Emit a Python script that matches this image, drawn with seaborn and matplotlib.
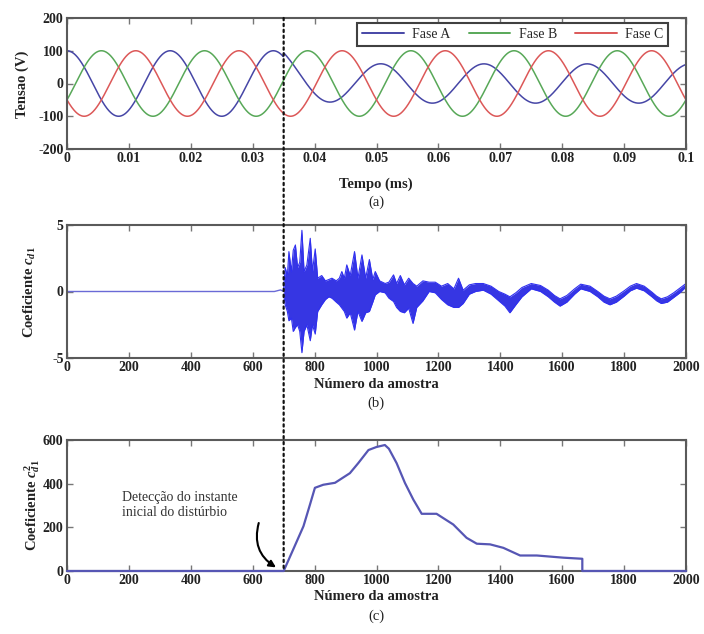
import numpy as np
import pandas as pd
import matplotlib
matplotlib.use("Agg")
import matplotlib.pyplot as plt
import seaborn as sns
from matplotlib.patches import ConnectionPatch

# ---------------- dados: painel (a) ----------------
fases = ["Fase A", "Fase B", "Fase C"]
cores_fases = ["#4646a6", "#58a858", "#dc5858"]
amp_antes = [100, 100, 100]
amp_depois = [60, 100, 100]
angulo_antes_graus = [0, -120, 120]
angulo_depois_graus = [-15, -120, 120]
transiente_inicial = [38, 0, 0]
tau_transiente = 0.003
freq_hz = 60
t_disturbio = 0.035
t_final = 0.1
n_pontos = 2001

ticks_tempo = [0, 0.01, 0.02, 0.03, 0.04, 0.05, 0.06, 0.07, 0.08, 0.09, 0.1]
rotulos_tempo = ["0", "0.01", "0.02", "0.03", "0.04", "0.05", "0.06", "0.07", "0.08", "0.09", "0.1"]
ticks_tensao = [-200, -100, 0, 100, 200]

# ---------------- dados: painel (b) ----------------
amostra_disturbio = 700
b_pre_amostra = [0, 670, 690, 700]
b_pre_valor = [0, 0, 0.12, 0]
b_amostra = [700, 705, 712, 717, 725, 731, 738, 745, 752, 759,
             766, 775, 786, 793, 802, 810, 823, 835, 846, 856,
             870, 880, 888, 896, 904, 915, 929, 940, 953, 965,
             977, 988, 996, 1010, 1028, 1040, 1055, 1065, 1077, 1090,
             1104, 1118, 1130, 1150, 1170, 1190, 1210, 1230, 1250, 1265,
             1280, 1300, 1320, 1345, 1370, 1395, 1415, 1431, 1450, 1470,
             1500, 1530, 1555, 1575, 1593, 1615, 1640, 1660, 1690, 1715,
             1735, 1754, 1775, 1800, 1820, 1840, 1865, 1890, 1905, 1920,
             1940, 1960, 1980, 2000]
b_superior = [0.2, 1.8, 1.2, 3.0, 1.5, 3.1, 3.5, 1.8, 2.2, 4.6,
              1.5, 2.0, 4.0, 1.5, 3.2, 1.0, 1.2, 0.8, 0.9, 1.0,
              0.8, 1.0, 1.5, 1.0, 2.0, 1.2, 3.0, 1.0, 2.75, 1.0,
              2.4, 0.9, 1.5, 0.8, 0.6, 0.7, 1.25, 0.6, 1.2, 0.5,
              1.0, 0.6, 0.4, 0.8, 0.7, 0.7, 0.4, 0.6, 0.2, 1.0,
              0.1, 0.5, 0.6, 0.6, 0.4, 0.0, -0.2, -0.4, -0.1, 0.3,
              0.6, 0.45, 0.1, -0.3, -0.55, -0.3, 0.2, 0.55, 0.4, 0.0,
              -0.35, -0.55, -0.35, 0.05, 0.4, 0.6, 0.4, -0.05, -0.35, -0.55,
              -0.4, -0.1, 0.25, 0.6]
b_inferior = [-0.2, -1.0, -1.5, -2.2, -2.0, -3.0, -2.7, -2.5, -3.0, -4.6,
              -3.0, -2.5, -3.7, -2.5, -3.2, -1.5, -1.0, -0.6, -0.4, -0.5,
              -0.8, -1.0, -1.25, -1.5, -2.0, -1.6, -2.9, -1.5, -2.25, -1.6,
              -1.5, -0.8, -0.25, 0.0, -0.1, -0.5, -0.75, -1.2, -1.5, -1.6,
              -1.25, -2.4, -1.2, -0.7, 0.0, -0.1, -0.6, -1.0, -1.2, -1.2,
              -0.9, -0.2, 0.0, 0.1, -0.2, -0.7, -1.1, -1.6, -1.0, -0.4,
              0.2, 0.0, -0.4, -0.8, -1.1, -0.8, -0.2, 0.2, 0.0, -0.4,
              -0.8, -1.0, -0.8, -0.35, 0.05, 0.25, 0.05, -0.4, -0.7, -0.9,
              -0.8, -0.45, -0.1, 0.35]
ticks_amostra = [0, 200, 400, 600, 800, 1000, 1200, 1400, 1600, 1800, 2000]
ticks_cd1 = [-5, 0, 5]

# ---------------- dados: painel (c) ----------------
c_amostra = [0, 700, 731, 764, 785, 801, 828, 866, 914, 941,
             974, 1000, 1027, 1040, 1065, 1092, 1119, 1146, 1194, 1248,
             1291, 1324, 1367, 1410, 1464, 1518, 1604, 1665, 1665, 2000]
c_valor = [0, 0, 99, 205, 304, 381, 395, 404, 448, 494,
           554, 568, 577, 560, 494, 403, 327, 262, 262, 213,
           152, 125, 122, 106, 71, 71, 61, 56, 0, 0]
ticks_cd1_2 = [0, 200, 400, 600]
texto_anotacao = "Detecção do instante\ninicial do distúrbio"

# ---------------- estilo ----------------
sns.set_theme(style="ticks")
plt.rcParams["font.family"] = ["Liberation Serif", "DejaVu Serif"]
plt.rcParams["font.weight"] = "bold"
plt.rcParams["axes.unicode_minus"] = False
plt.rcParams["mathtext.fontset"] = "custom"
plt.rcParams["mathtext.rm"] = "Liberation Serif:bold"
plt.rcParams["mathtext.it"] = "Liberation Serif:italic:bold"
plt.rcParams["mathtext.bf"] = "Liberation Serif:bold"

W, H = 704, 634
fig = plt.figure(figsize=(W / 100, H / 100), dpi=100)


def caixa(top_px, bottom_px, left_px=67, right_px=686):
    return [left_px / W, 1 - bottom_px / H, (right_px - left_px) / W, (bottom_px - top_px) / H]


ax_a = fig.add_axes(caixa(18, 149))
ax_b = fig.add_axes(caixa(225, 358))
ax_c = fig.add_axes(caixa(440, 571))

# ---------------- painel (a) ----------------
t = np.linspace(0, t_final, n_pontos)
linhas = []
for nome, a0, a1, g0, g1, tr in zip(fases, amp_antes, amp_depois, angulo_antes_graus,
                                    angulo_depois_graus, transiente_inicial):
    antes = a0 * np.cos(2 * np.pi * freq_hz * t + np.deg2rad(g0))
    depois = a1 * np.cos(2 * np.pi * freq_hz * t + np.deg2rad(g1)) + \
        tr * np.exp(-np.clip(t - t_disturbio, 0, None) / tau_transiente)
    v = np.where(t < t_disturbio, antes, depois)
    linhas.append(pd.DataFrame({"t": t, "v": v, "fase": nome}))
df_a = pd.concat(linhas, ignore_index=True)

sns.lineplot(data=df_a, x="t", y="v", hue="fase", hue_order=fases, palette=cores_fases,
             estimator=None, linewidth=1.1, ax=ax_a)
ax_a.set_xlim(0, t_final)
ax_a.set_ylim(-200, 200)
ax_a.set_xticks(ticks_tempo)
ax_a.set_xticklabels(rotulos_tempo)
ax_a.set_yticks(ticks_tensao)
handles, labels = ax_a.get_legend_handles_labels()
leg = ax_a.legend(handles, labels, ncol=3, loc="upper right", bbox_to_anchor=(0.971, 0.962),
                  borderaxespad=0, frameon=True, fancybox=False, edgecolor="#404040",
                  framealpha=1, handlelength=3.0, columnspacing=1.3, handletextpad=0.6,
                  borderpad=0.35, prop={"family": "Liberation Serif", "size": 10, "weight": "normal"})
leg.get_frame().set_linewidth(1.5)
for lh in leg.get_lines():
    lh.set_linewidth(1.4)

# ---------------- painel (b) ----------------
sns.lineplot(x=b_pre_amostra, y=b_pre_valor, color="#6a6ad6", linewidth=1.0,
             estimator=None, ax=ax_b)
ax_b.fill_between(b_amostra, b_inferior, b_superior, color="#2020e0", alpha=0.9, linewidth=0)
sns.lineplot(x=b_amostra, y=b_superior, color="#3030f0", linewidth=0.8, estimator=None, ax=ax_b)
sns.lineplot(x=b_amostra, y=b_inferior, color="#3030f0", linewidth=0.8, estimator=None, ax=ax_b)
ax_b.set_xlim(0, 2000)
ax_b.set_ylim(-5, 5)
ax_b.set_xticks(ticks_amostra)
ax_b.set_yticks(ticks_cd1)

# ---------------- painel (c) ----------------
sns.lineplot(x=c_amostra, y=c_valor, sort=False, estimator=None, color="#5656b4",
             linewidth=1.6, ax=ax_c, zorder=4, clip_on=False)
ax_c.set_xlim(0, 2000)
ax_c.set_ylim(0, 600)
ax_c.set_xticks(ticks_amostra)
ax_c.set_yticks(ticks_cd1_2)
ax_c.text(177, 302, texto_anotacao, ha="left", va="center", fontsize=10,
          fontweight="normal", color="#333333", linespacing=1.25)
ax_c.annotate("", xy=(683, 10), xytext=(622, 232),
              arrowprops=dict(arrowstyle="-|>", color="black", lw=1.5,
                              connectionstyle="arc3,rad=0.4", mutation_scale=10))

# ---------------- estilo comum ----------------
for ax in (ax_a, ax_b, ax_c):
    ax.set_xlabel("")
    ax.set_ylabel("")
    for sp in ax.spines.values():
        sp.set_color("#5a5a5a")
        sp.set_linewidth(1.5)
        sp.set_visible(True)
    ax.tick_params(direction="in", length=4, width=1, top=True, right=True,
                   color="#777777", labelcolor="#222222", labelsize=10, pad=2.5)
    for lbl in ax.get_xticklabels() + ax.get_yticklabels():
        lbl.set_fontweight("bold")

# linha pontilhada vertical do instante de distúrbio
con = ConnectionPatch(xyA=(t_disturbio, 200), coordsA=ax_a.transData,
                      xyB=(amostra_disturbio, 0), coordsB=ax_c.transData,
                      color="#111111", linestyle=":", linewidth=1.6, zorder=10)
fig.add_artist(con)


def fx(px):
    return px / W


def fy(py):
    return 1 - py / H


rot = dict(ha="center", va="center", fontsize=10.5, color="#222222")
fig.text(fx(376), fy(184), "Tempo (ms)", fontweight="bold", **rot)
fig.text(fx(376), fy(202), "(a)", fontweight="normal", **rot)
fig.text(fx(376), fy(385), "Número da amostra", fontweight="bold", **rot)
fig.text(fx(376), fy(403), "(b)", fontweight="normal", **rot)
fig.text(fx(376), fy(597), "Número da amostra", fontweight="bold", **rot)
fig.text(fx(376), fy(616), "(c)", fontweight="normal", **rot)
fig.text(fx(22), fy(84), "Tensao (V)", rotation=90, fontweight="bold", **rot)
fig.text(fx(30), fy(292), "Coeficiente $c_{d1}$", rotation=90, fontweight="bold", **rot)
fig.text(fx(32), fy(505), "Coeficiente $c_{d1}^{2}$", rotation=90, fontweight="bold", **rot)

fig.savefig("out.png", dpi=100, facecolor="white")
